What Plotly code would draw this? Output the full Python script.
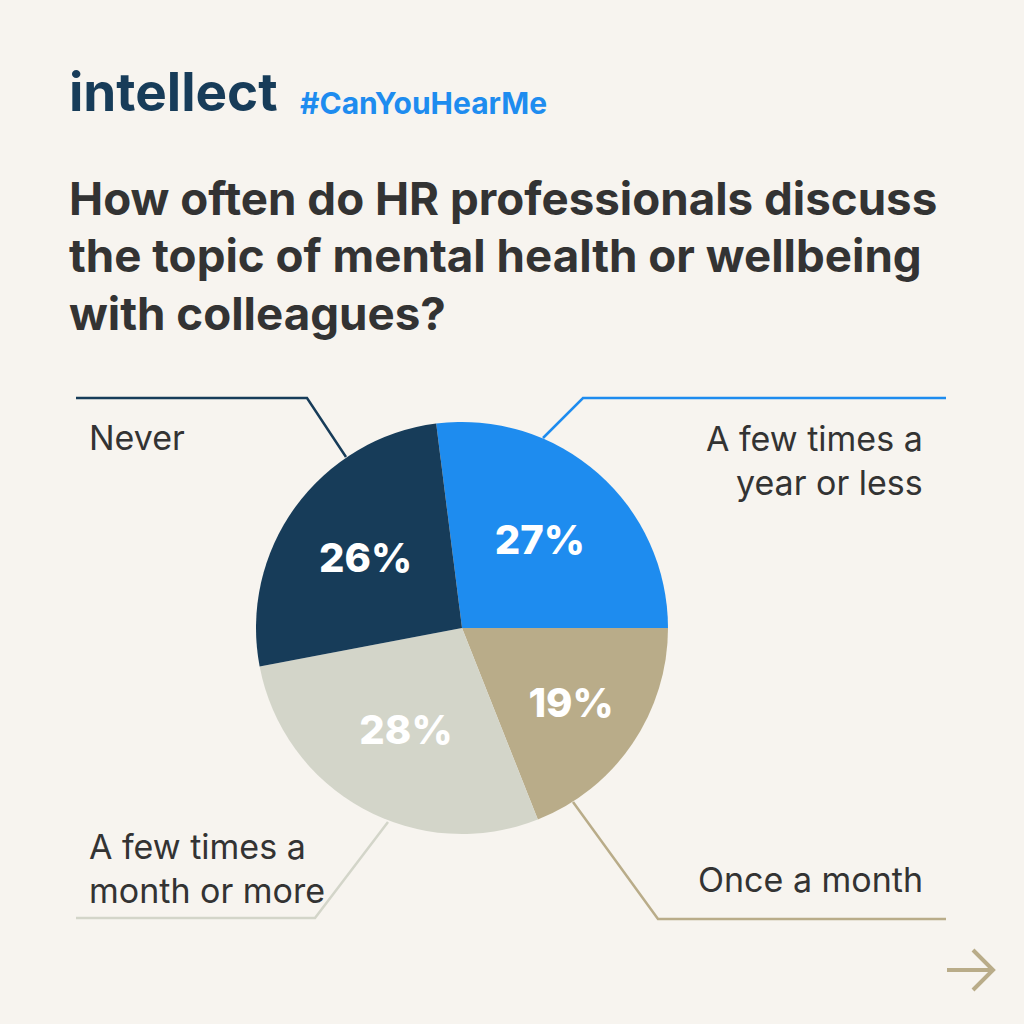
import plotly.graph_objects as go

# ---- data ----
categories = ["A few times a year or less", "Once a month", "A few times a month or more", "Never"]
values = [27, 19, 28, 26]
colors = ["#1E8CEF", "#B9AC89", "#D3D5C9", "#173C59"]

title_lines = [
    "How often do HR professionals discuss",
    "the topic of mental health or wellbeing",
    "with colleagues?",
]

W = H = 1024
BG = "#F7F4EF"
TXT = "#333333"
FONT = "Inter"


def px(x):
    return x / W


def py(y):
    return 1 - y / H


# pie geometry (pixels)
cx, cy, r = 462, 628, 206

fig = go.Figure()
fig.add_trace(go.Pie(
    labels=categories,
    values=values,
    marker=dict(colors=colors, line=dict(width=0)),
    sort=False,
    direction="clockwise",
    rotation=-values[0] * 3.6 + 90,
    textinfo="percent",
    texttemplate="%{value}%",
    textposition="inside",
    insidetextorientation="horizontal",
    textfont=dict(family=FONT, size=40, color="white", weight=800),
    domain=dict(x=[px(cx - r), px(cx + r)], y=[py(cy + r), py(cy - r)]),
    showlegend=False,
    hoverinfo="label+percent",
))

annotations = []
# logo
annotations.append(dict(text="intellect", x=px(67), y=py(92), xref="paper", yref="paper",
                        xanchor="left", yanchor="middle", showarrow=False,
                        font=dict(family=FONT, size=53, color="#173C59", weight=700)))
annotations.append(dict(text="#CanYouHearMe", x=px(298), y=py(103), xref="paper", yref="paper",
                        xanchor="left", yanchor="middle", showarrow=False,
                        font=dict(family=FONT, size=30, color="#1E8CEF", weight=700)))
# title
for i, line in enumerate(title_lines):
    annotations.append(dict(text=line, x=px(67), y=py(198 + i * 57.5), xref="paper", yref="paper",
                            xanchor="left", yanchor="middle", showarrow=False,
                            font=dict(family=FONT, size=45.7, color=TXT, weight=700)))

lab_font = dict(family=FONT, size=34, color=TXT)
annotations.append(dict(text="Never", x=px(87), y=py(437), xref="paper", yref="paper",
                        xanchor="left", yanchor="middle", showarrow=False, font=lab_font))
annotations.append(dict(text="A few times a<br>year or less", x=px(925), y=py(460), xref="paper", yref="paper",
                        xanchor="right", yanchor="middle", align="right", showarrow=False, font=lab_font))
annotations.append(dict(text="A few times a<br>month or more", x=px(87), y=py(868), xref="paper", yref="paper",
                        xanchor="left", yanchor="middle", align="left", showarrow=False, font=lab_font))
annotations.append(dict(text="Once a month", x=px(925), y=py(879), xref="paper", yref="paper",
                        xanchor="right", yanchor="middle", showarrow=False, font=lab_font))

shapes = []


def polyline(pts, color, width=2.5):
    path = "M " + " L ".join(f"{px(x)},{py(y)}" for x, y in pts)
    shapes.append(dict(type="path", path=path, xref="paper", yref="paper",
                       line=dict(color=color, width=width)))


polyline([(76, 398), (307, 398), (346, 457)], colors[3])
polyline([(543, 438), (583, 398), (946, 398)], colors[0])
polyline([(388, 822), (315, 918), (76, 918)], colors[2])
polyline([(573, 802), (658, 919), (946, 919)], colors[1])

# arrow bottom right
polyline([(947, 970), (993, 970)], colors[1], 4)
polyline([(973, 950), (993, 970), (973, 990)], colors[1], 4)

fig.update_layout(
    width=W, height=H,
    margin=dict(l=0, r=0, t=0, b=0),
    paper_bgcolor=BG, plot_bgcolor=BG,
    annotations=annotations,
    shapes=shapes,
    showlegend=False,
)

fig.write_html("out.html")
